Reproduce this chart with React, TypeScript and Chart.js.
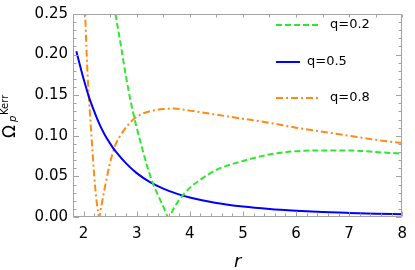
import React, { useEffect, useRef } from 'react';
import { Chart, registerables } from 'chart.js';

Chart.register(...registerables);

// ---- data ----
const xTickValues = [2, 3, 4, 5, 6, 7, 8];
const yTickValues = [0, 0.05, 0.1, 0.15, 0.2, 0.25];
const seriesLabels = ['q=0.2', 'q=0.5', 'q=0.8'];

const greenR = [2.55, 2.6, 2.7, 2.8, 2.9, 3.0, 3.1, 3.2, 3.3, 3.4, 3.5, 3.6, 3.7, 3.8, 4.0, 4.2, 4.5, 5.0, 5.5, 6.0, 6.5, 7.0, 7.5, 8.0];
const greenOmega = [0.272, 0.25, 0.212, 0.172, 0.138, 0.11, 0.085, 0.062, 0.042, 0.027, 0.013, 0.0, 0.011, 0.021, 0.036, 0.046, 0.058, 0.069, 0.077, 0.081, 0.082, 0.082, 0.08, 0.078];

const blueR = [1.863, 1.95, 2.0, 2.1, 2.2, 2.3, 2.4, 2.5, 2.6, 2.8, 3.0, 3.25, 3.5, 3.75, 4.0, 4.5, 5.0, 5.5, 6.0, 6.5, 7.0, 7.5, 8.0];
const blueOmega = [0.204, 0.182, 0.17, 0.148, 0.13, 0.114, 0.101, 0.0904, 0.081, 0.066, 0.054, 0.043, 0.035, 0.0288, 0.024, 0.0172, 0.0128, 0.0098, 0.0077, 0.0061, 0.005, 0.0041, 0.0034];

const orangeR = [2.015, 2.03, 2.06, 2.09, 2.12, 2.16, 2.2, 2.24, 2.27, 2.29, 2.33, 2.38, 2.43, 2.48, 2.54, 2.6, 2.7, 2.82, 2.95, 3.1, 3.3, 3.5, 3.7, 4.0, 4.5, 5.0, 5.5, 6.0, 6.5, 7.0, 7.5, 8.0];
const orangeOmega = [0.28, 0.25, 0.196, 0.156, 0.127, 0.088, 0.05, 0.022, 0.007, 0.0, 0.012, 0.03, 0.046, 0.062, 0.077, 0.089, 0.101, 0.112, 0.121, 0.127, 0.131, 0.133, 0.1335, 0.131, 0.126, 0.121, 0.116, 0.11, 0.105, 0.1, 0.095, 0.091];

const xTitle = 'r';
const yTitleMain = 'Ω';
const yTitleSub = 'p';
const yTitleSup = 'Kerr';

const FONT = '"DejaVu Sans", sans-serif';
const FRAME = '#a3a3a3';

const toPoints = (xs: number[], ys: number[]) => xs.map((x, i) => ({ x, y: ys[i] }));

const framePlugin = {
  id: 'frameTicks',
  afterDraw(chart: any) {
    const { ctx, chartArea: a, scales } = chart;
    const x = scales.x;
    const y = scales.y;
    ctx.save();
    ctx.strokeStyle = FRAME;
    ctx.lineWidth = 1;
    const L = Math.round(a.left) + 0.5;
    const R = Math.round(a.right) - 0.5;
    const T = Math.round(a.top) + 0.5;
    const B = Math.round(a.bottom) - 0.5;
    ctx.beginPath();
    ctx.rect(L, T, R - L, B - T);
    ctx.stroke();
    ctx.beginPath();
    // bottom ticks: major at integers, minor every 0.2
    for (let k = 0; k <= 40; k++) {
      const v = x.min + 0.2 * k;
      if (v > x.max + 1e-9) break;
      const major = Math.abs(v - Math.round(v)) < 1e-6;
      const px = Math.round(x.getPixelForValue(v)) + 0.5;
      const len = major ? 5 : 3;
      ctx.moveTo(px, B);
      ctx.lineTo(px, B - len);
    }
    // top ticks every 0.5
    for (let k = 0; k <= 20; k++) {
      const v = 2 + 0.5 * k;
      if (v > x.max + 1e-9) break;
      const px = Math.round(x.getPixelForValue(v)) + 0.5;
      ctx.moveTo(px, T);
      ctx.lineTo(px, T + 3);
    }
    // left & right ticks: major every 0.05, minor every 0.01
    for (let k = 0; k <= 25; k++) {
      const v = 0.01 * k;
      const major = k % 5 === 0;
      const py = Math.round(y.getPixelForValue(v)) + 0.5;
      const len = major ? 5.5 : 3;
      ctx.moveTo(L, py);
      ctx.lineTo(L + len, py);
      ctx.moveTo(R, py);
      ctx.lineTo(R - len, py);
    }
    ctx.stroke();
    ctx.restore();
  },
};

const legendPlugin = {
  id: 'insideLegend',
  afterDraw(chart: any) {
    const { ctx } = chart;
    const rows = [
      { ds: 0, x0: 276, len: 44, y: 25, tx: 330 },
      { ds: 1, x0: 276, len: 24, y: 62, tx: 307 },
      { ds: 2, x0: 276, len: 43, y: 98, tx: 330 },
    ];
    ctx.save();
    rows.forEach((r) => {
      const d = chart.data.datasets[r.ds];
      ctx.strokeStyle = d.borderColor;
      ctx.lineWidth = d.borderWidth;
      ctx.setLineDash(d.borderDash || []);
      ctx.beginPath();
      ctx.moveTo(r.x0, r.y);
      ctx.lineTo(r.x0 + r.len, r.y);
      ctx.stroke();
      ctx.setLineDash([]);
      ctx.fillStyle = '#000';
      ctx.font = `13px ${FONT}`;
      ctx.textAlign = 'left';
      ctx.textBaseline = 'middle';
      ctx.fillText(d.label, r.tx, r.y);
    });
    ctx.restore();
  },
};

const yTitlePlugin = {
  id: 'yTitle',
  afterDraw(chart: any) {
    const { ctx } = chart;
    ctx.save();
    ctx.translate(15, 138);
    ctx.rotate(-Math.PI / 2);
    ctx.fillStyle = '#000';
    ctx.textAlign = 'left';
    ctx.textBaseline = 'alphabetic';
    ctx.font = `17px ${FONT}`;
    ctx.fillText(yTitleMain, 0, 0);
    ctx.font = `italic 10px ${FONT}`;
    ctx.fillText(yTitleSub, 16, 0.5);
    ctx.font = `10px ${FONT}`;
    ctx.fillText(yTitleSup, 23, -7);
    ctx.restore();
  },
};

export default function App() {
  const ref = useRef<HTMLCanvasElement | null>(null);

  useEffect(() => {
    document.body.style.margin = '0';
    const canvas = ref.current;
    if (!canvas) return;
    const chart = new Chart(canvas, {
      type: 'line',
      data: {
        datasets: [
          {
            label: seriesLabels[0],
            data: toPoints(greenR, greenOmega),
            borderColor: '#2ee82e',
            borderWidth: 2,
            borderDash: [6, 3],
            pointRadius: 0,
            cubicInterpolationMode: 'monotone',
            fill: false,
          },
          {
            label: seriesLabels[1],
            data: toPoints(blueR, blueOmega),
            borderColor: '#0000ff',
            borderWidth: 2,
            pointRadius: 0,
            cubicInterpolationMode: 'monotone',
            fill: false,
          },
          {
            label: seriesLabels[2],
            data: toPoints(orangeR, orangeOmega),
            borderColor: '#ff8a14',
            borderWidth: 2,
            borderDash: [7, 3, 2, 3],
            pointRadius: 0,
            cubicInterpolationMode: 'monotone',
            fill: false,
          },
        ],
      },
      options: {
        responsive: false,
        animation: false,
        devicePixelRatio: 1,
        layout: { padding: { left: 0, top: 8, right: 6, bottom: 0 } },
        plugins: { legend: { display: false }, tooltip: { enabled: false } },
        scales: {
          x: {
            type: 'linear',
            min: 1.8,
            max: 8,
            afterBuildTicks: (s: any) => {
              s.ticks = xTickValues.map((v) => ({ value: v }));
            },
            afterFit: (s: any) => {
              s.height = 53;
            },
            grid: { display: false, drawTicks: false },
            border: { display: false },
            ticks: {
              padding: 8,
              color: '#000',
              font: { family: FONT, size: 15 },
              maxRotation: 0,
              callback: (v: any) => String(v),
            },
            title: {
              display: true,
              text: xTitle,
              color: '#000',
              font: { family: FONT, size: 18, style: 'italic' },
              padding: { top: 0, bottom: -3 },
            },
          },
          y: {
            type: 'linear',
            min: 0,
            max: 0.25,
            afterBuildTicks: (s: any) => {
              s.ticks = yTickValues.map((v) => ({ value: v }));
            },
            afterFit: (s: any) => {
              s.width = 73;
            },
            grid: { display: false, drawTicks: false },
            border: { display: false },
            ticks: {
              padding: 5,
              color: '#000',
              font: { family: FONT, size: 15 },
              callback: (v: any) => Number(v).toFixed(2),
            },
          },
        },
      },
      plugins: [framePlugin, legendPlugin, yTitlePlugin],
    } as any);
    return () => chart.destroy();
  }, []);

  return (
    <canvas
      ref={ref}
      width={415}
      height={270}
      style={{ display: 'block', position: 'fixed', left: 0, top: 0 }}
    />
  );
}
